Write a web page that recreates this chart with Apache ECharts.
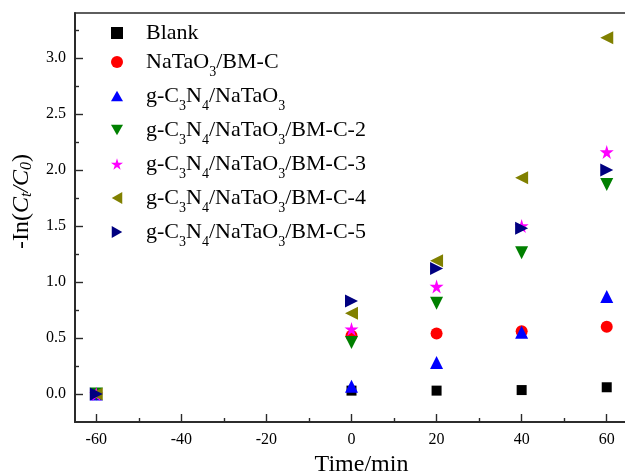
<!DOCTYPE html>
<html>
<head>
<meta charset="utf-8">
<script src="https://cdn.jsdelivr.net/npm/echarts@6/dist/echarts.min.js"></script>
<style>
  html, body { margin: 0; padding: 0; background: #fff; }
  #chart { width: 625px; height: 471px; }
</style>
</head>
<body>
<div id="chart"></div>
<script>
// Sampling times (min); -60 is the start of the dark adsorption period
const times = [-60, 0, 20, 40, 60];

const seriesNames = [
  'Blank',
  'NaTaO3/BM-C',
  'g-C3N4/NaTaO3',
  'g-C3N4/NaTaO3/BM-C-2',
  'g-C3N4/NaTaO3/BM-C-3',
  'g-C3N4/NaTaO3/BM-C-4',
  'g-C3N4/NaTaO3/BM-C-5'
];

// -ln(Ct/C0) values for each sample
const blank      = [0, 0.03, 0.03, 0.035, 0.06];
const natao      = [0, 0.52, 0.54, 0.56, 0.60];
const cnNatao    = [0, 0.07, 0.28, 0.55, 0.87];
const cnBmc2     = [0, 0.46, 0.81, 1.26, 1.87];
const cnBmc3     = [0, 0.58, 0.96, 1.50, 2.16];
const cnBmc4     = [0, 0.72, 1.19, 1.93, 3.18];
const cnBmc5     = [0, 0.83, 1.12, 1.48, 2.00];

// Tick positions
const xMajorTicks = [-60, -40, -20, 0, 20, 40, 60];
const xMinorTicks = [-50, -30, -10, 10, 30, 50];
const yMajorTicks = [0, 0.5, 1.0, 1.5, 2.0, 2.5, 3.0];
const yMinorTicks = [0.25, 0.75, 1.25, 1.75, 2.25, 2.75, 3.25];

const FONT = 'Liberation Serif';
const AXIS_COLOR = '#2a2a2a';

// Marker outlines
const TRI_UP    = 'path://M50,0 L100,87 L0,87 Z';
const TRI_DOWN  = 'path://M0,0 L100,0 L50,87 Z';
const TRI_LEFT  = 'path://M0,50 L87,0 L87,100 Z';
const TRI_RIGHT = 'path://M0,0 L87,50 L0,100 Z';
const STAR      = 'path://M50,0 L61,35 L98,35 L68,57 L79,91 L50,70 L21,91 L32,57 L2,35 L39,35 Z';

const styles = [
  { color: '#000000', symbol: 'rect',    size: 10 },
  { color: '#ff0000', symbol: 'circle',  size: 12 },
  { color: '#0000ff', symbol: TRI_UP,    size: 13 },
  { color: '#008000', symbol: TRI_DOWN,  size: 13 },
  { color: '#ff00ff', symbol: STAR,      size: 14 },
  { color: '#808000', symbol: TRI_LEFT,  size: 13 },
  { color: '#000080', symbol: TRI_RIGHT, size: 13 }
];

const values = [blank, natao, cnNatao, cnBmc2, cnBmc3, cnBmc4, cnBmc5];

const series = seriesNames.map((name, i) => ({
  name,
  type: 'scatter',
  symbol: styles[i].symbol,
  symbolSize: styles[i].size,
  itemStyle: { color: styles[i].color, opacity: 1 },
  data: times.map((t, k) => [t, values[i][k]]),
  z: 2 + i
}));

// Chemical formula digits become subscripts
function formula(name) {
  return name.replace(/([CNO])(\d)/g, '$1{s|$2}');
}

const axisLine = { show: true, onZero: false, lineStyle: { color: AXIS_COLOR, width: 1.6 } };

const chart = echarts.init(document.getElementById('chart'), null, { renderer: 'canvas' });
chart.setOption({
  animation: false,
  backgroundColor: '#ffffff',
  grid: {
    left: 75, top: 13, width: 553, bottom: 49,
    show: true, borderColor: AXIS_COLOR, borderWidth: 1.6,
    containLabel: false,
    outerBoundsMode: 'none'
  },
  legend: {
    orient: 'vertical',
    left: 111, top: 21,
    padding: 0,
    itemGap: 0,
    itemWidth: 12, itemHeight: 12,
    selectedMode: false,
    data: seriesNames.map((name, i) => ({ name, icon: styles[i].symbol })),
    formatter: formula,
    textStyle: {
      fontFamily: FONT, fontSize: 22, color: '#000', lineHeight: 24,
      padding: [0, 0, 0, 18],
      rich: {
        s: { fontFamily: FONT, fontSize: 14, color: '#000', lineHeight: 14, padding: [20, 0, 0, 0] }
      }
    }
  },
  xAxis: [
    {
      type: 'value', min: -65, max: 65,
      position: 'bottom',
      axisLine,
      splitLine: { show: false },
      axisTick: { show: true, inside: true, length: 8, customValues: xMajorTicks, lineStyle: { color: AXIS_COLOR, width: 1.4 } },
      axisLabel: { customValues: xMajorTicks, margin: 10, fontFamily: FONT, fontSize: 16, color: '#000' },
      name: 'Time/min',
      nameLocation: 'middle',
      nameGap: 21,
      nameTextStyle: { fontFamily: FONT, fontSize: 24, color: '#000', padding: [0, 0, 0, 20] }
    },
    {
      type: 'value', min: -65, max: 65,
      position: 'bottom',
      axisLine,
      splitLine: { show: false },
      axisTick: { show: true, inside: true, length: 4, customValues: xMinorTicks, lineStyle: { color: AXIS_COLOR, width: 1.4 } },
      axisLabel: { show: false }
    }
  ],
  yAxis: [
    {
      type: 'value', min: -0.25, max: 3.4,
      position: 'left',
      axisLine,
      splitLine: { show: false },
      axisTick: { show: true, inside: true, length: 8, customValues: yMajorTicks, lineStyle: { color: AXIS_COLOR, width: 1.4 } },
      axisLabel: {
        customValues: yMajorTicks, margin: 9,
        fontFamily: FONT, fontSize: 16, color: '#000',
        formatter: v => v.toFixed(1)
      },
      name: '-In({i|C}{is|t}{i|/C}{is|0})',
      nameLocation: 'middle',
      nameRotate: 90,
      nameGap: 20,
      nameTextStyle: {
        fontFamily: FONT, fontSize: 24, color: '#000', lineHeight: 27,
        padding: [0, 0, 0, 32],
        rich: {
          i: { fontFamily: FONT, fontSize: 24, fontStyle: 'italic', color: '#000', lineHeight: 27 },
          is: { fontFamily: FONT, fontSize: 16, fontStyle: 'italic', color: '#000', lineHeight: 16, padding: [10, 0, 0, 0] }
        }
      }
    },
    {
      type: 'value', min: -0.25, max: 3.4,
      position: 'left',
      axisLine,
      splitLine: { show: false },
      axisTick: { show: true, inside: true, length: 4, customValues: yMinorTicks, lineStyle: { color: AXIS_COLOR, width: 1.4 } },
      axisLabel: { show: false }
    }
  ],
  series
});
</script>
</body>
</html>
